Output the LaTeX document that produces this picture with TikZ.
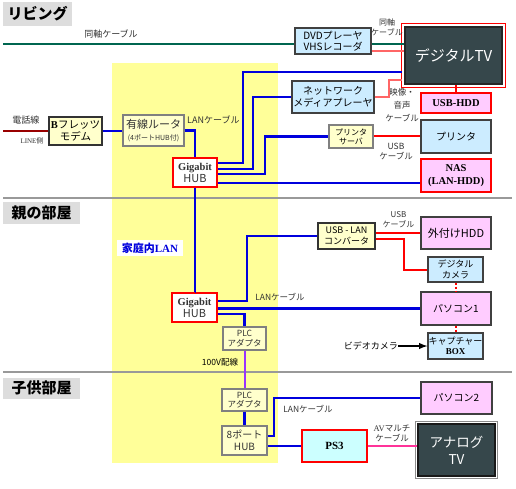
\documentclass[tikz,border=0pt]{standalone}
\usepackage{fontspec}
\setmainfont{Noto Sans CJK JP}
\newfontfamily\serifb{Liberation Serif}
\usepackage{xcolor}
\usepackage{tikz}
\newcommand{\fsz}[2]{\fontsize{#1}{#2}\selectfont}
\definecolor{roomgray}{HTML}{DDDDDD}
\definecolor{sepgray}{HTML}{999999}
\definecolor{lanzone}{HTML}{FFFF99}
\definecolor{boxyellow}{HTML}{FFFFCC}
\definecolor{boxblue}{HTML}{CCECFF}
\definecolor{boxpink}{HTML}{FFCCFF}
\definecolor{boxcyan}{HTML}{CCFFFF}
\definecolor{tvslate}{HTML}{36474B}
\definecolor{lanblue}{HTML}{0000DD}
\definecolor{coaxgreen}{HTML}{006650}
\definecolor{tvpink}{HTML}{FF6666}
\definecolor{telred}{HTML}{990000}
\definecolor{pwrpurple}{HTML}{9933FF}
\definecolor{avpink}{HTML}{FF3399}

\begin{document}
\begin{tikzpicture}[x=1pt,y=-1pt,
  every node/.style={inner sep=0pt, align=center},
  room/.style={fill=roomgray, font=\fsz{15}{17}\bfseries},
  ybox/.style={draw=black!80, line width=1.3pt, fill=boxyellow},
  gbox/.style={draw=black!50, line width=1.3pt, fill=boxyellow},
  bbox/.style={draw=black!75, line width=1.3pt, fill=boxblue},
  pbox/.style={draw=black!75, line width=1.3pt, fill=boxpink},
  rbox/.style={draw=red, line width=1.3pt},
  hub/.style={rbox, fill=white, text=black!80, font=\fsz{11}{12}},
  tvset/.style={fill=tvslate, draw=black!85, line width=2.5pt, text=white},
  lbl/.style={font=\fsz{8.5}{10}, text=black!80},
  lan/.style={draw=lanblue, line width=2.2pt},
  usb/.style={draw=red, line width=2pt},
  sep/.style={draw=sepgray, line width=2pt}]
\useasboundingbox (0,0) rectangle (516,489);

% LAN area and room borders
\fill[lanzone] (112,63) rectangle (278,463);
\draw[sep] (3,198) -- (512,198);
\draw[sep] (3,372) -- (512,372);
\node[room, minimum width=69pt, minimum height=24pt] (living) at (37.5,14) {リビング};
\node[room, minimum width=77pt, minimum height=22pt] (parent) at (41.5,213) {親の部屋};
\node[room, minimum width=77pt, minimum height=21pt] (child) at (41.5,388) {子供部屋};
\node[fill=white, minimum width=66pt, minimum height=16pt, text=lanblue,
  font=\fsz{11}{12}\bfseries] (lanname) at (150,248) {家庭内{\serifb\bfseries LAN}};

% living room
\coordinate (coaxin) at (3,44.5);
\coordinate (phone) at (3,131);
\node[ybox, minimum width=53pt, minimum height=28pt, font=\fsz{10.5}{12}] (modem) at (75.5,131)
  {{\serifb\bfseries B}フレッツ\\モデム};
\node[gbox, minimum width=61pt, minimum height=31pt, font=\fsz{11}{12.5}, text=black!80] (router) at (153.5,130.5)
  {有線ルータ\\{\fsz{7}{8}(4ポートHUB付)}};
\node[hub, minimum width=44pt, minimum height=29pt] (hubA) at (195,172.5)
  {{\serifb\bfseries\fsz{10.5}{12}Gigabit}\\HUB};
\node[bbox, minimum width=76pt, minimum height=26pt, font=\fsz{10}{11}] (dvd) at (333,41)
  {DVDプレーヤ\\VHSレコーダ};
\node[tvset, minimum width=97pt, minimum height=57pt, font=\fsz{15}{16}] (tv) at (453.5,55.5) {デジタルTV};
\draw[red, line width=1.3pt] ([shift={(-2pt,2pt)}]tv.north west) rectangle ([shift={(2pt,-2pt)}]tv.south east);
\node[bbox, minimum width=82pt, minimum height=32pt, font=\fsz{10}{11.5}] (media) at (333,97)
  {ネットワーク\\メディアプレーヤ};
\node[rbox, fill=boxpink, minimum width=70pt, minimum height=20pt, font=\serifb\bfseries\fsz{10.5}{12}] (usbhdd) at (456,103) {USB-HDD};
\node[gbox, minimum width=44pt, minimum height=23pt, font=\fsz{8}{9}] (psrv) at (351,136.5) {プリンタ\\サーバ};
\node[bbox, minimum width=70pt, minimum height=33pt, font=\fsz{10}{11}] (printer) at (456,136.5) {プリンタ};
\node[rbox, fill=boxpink, minimum width=70pt, minimum height=33pt, font=\serifb\bfseries\fsz{10.5}{13}] (nas) at (456,175.5)
  {NAS\\(LAN-HDD)};

\node[lbl, font=\fsz{9}{10}] (coaxlbl) at (111,34) {同軸ケーブル};
\node[lbl, font=\fsz{9}{10}] (tellbl) at (26,120) {電話線};
\node[lbl, font=\fsz{7}{8}] (linelbl) at (32,141) {{\serifb LINE}側};
\node[lbl, font=\fsz{9}{10}, anchor=west] (lanlblA) at (187,120) {LANケーブル};
\node[lbl, font=\fsz{8}{10}] (coaxlblB) at (387,27) {同軸\\ケーブル};
\node[lbl, font=\fsz{8.5}{13}] (avlblA) at (402,105) {映像・\\音声\\ケーブル};
\node[lbl, font=\fsz{8.5}{10}] (usblblA) at (396,151) {USB\\ケーブル};

\draw[telred, line width=2pt] (phone) -- (modem.west);
\draw[coaxgreen, line width=2pt] (coaxin) -- (coaxin -| dvd.west);
\draw[coaxgreen, line width=2pt] ([yshift=-3.5pt]dvd.east) -- ++(32,0);
\draw[tvpink, line width=2pt] ([yshift=-10pt]dvd.east) -- ++(32,0);
\draw[lan] (modem.east) -- (modem.east -| router.west);
\draw[lan] (router.east) -| (hubA.north);
\draw[lan] (hubA.south) -- (hubA.south |- 0,293);
\draw[lan] ([yshift=9.5pt]hubA.east) -- ++(25,0) |- ([shift={(-2pt,-16.5pt)}]tv.west);
\draw[lan] ([yshift=3.5pt]hubA.east) -- ++(35,0) |- (media.west);
\draw[lan] ([yshift=-1.5pt]hubA.east) -- ++(47,0) |- (psrv.west);
\draw[lan] ([yshift=-10.5pt]hubA.east) -- ([yshift=-10.5pt]hubA.east -| nas.west);
\draw[tvpink, line width=2pt] (media.east) -- ++(14,0) |- ([shift={(-2pt,-24.5pt)}]tv.west);
\draw[usb] (tv.south -| usbhdd.north) -- (usbhdd.north);
\draw[usb] (psrv.east) -- (psrv.east -| printer.west);

% parents' room
\node[hub, minimum width=45pt, minimum height=29pt] (hubB) at (194.5,307.5)
  {{\serifb\bfseries\fsz{10.5}{12}Gigabit}\\HUB};
\node[ybox, minimum width=57pt, minimum height=26pt, font=\fsz{9}{10.5}] (conv) at (346.5,236) {USB - LAN\\コンバータ};
\node[pbox, minimum width=70pt, minimum height=32pt, font=\fsz{11}{12}] (exthdd) at (456,233) {外付けHDD};
\node[bbox, minimum width=55pt, minimum height=25pt, font=\fsz{9}{10.5}] (dcam) at (455.5,269.5) {デジタル\\カメラ};
\node[pbox, minimum width=70pt, minimum height=33pt, font=\fsz{10}{11}] (pc1) at (456,308.5) {パソコン1};
\node[bbox, minimum width=55pt, minimum height=26pt, font=\fsz{9}{10.5}] (capbox) at (455.5,346)
  {キャプチャー\\{\serifb\bfseries BOX}};
\node[lbl, font=\fsz{9}{10}, text=black, anchor=east] (vcam) at (398,346) {ビデオカメラ};
\node[gbox, minimum width=43pt, minimum height=23pt, font=\fsz{8.5}{9.5}, text=black!80] (plcA) at (244.5,338.5) {PLC\\アダプタ};
\node[lbl, font=\fsz{8.5}{10}] (lanlblB) at (280,297) {LANケーブル};
\node[lbl, font=\fsz{8}{9.5}] (usblblB) at (398.5,219.5) {USB\\ケーブル};
\node[lbl, font=\fsz{8.5}{10}, text=black] (pwrlbl) at (220,362) {100V配線};

\draw[lan] (hubA.south |- hubB.north) -- (hubB.north);
\draw[lan] ([yshift=6.5pt]hubB.east) -- ++(29,0) |- (conv.west);
\draw[lan] (hubB.east |- pc1.west) -- (pc1.west);
\draw[lan] ([yshift=-6.5pt]hubB.east) -| (plcA.north);
\draw[usb] ([yshift=3pt]conv.east) -- ([yshift=3pt]conv.east -| exthdd.west);
\draw[usb] ([yshift=-3pt]conv.east) -- ++(28,0) |- (dcam.west);
\draw[red, line width=2pt, dotted] (dcam.south) -- (dcam.south |- pc1.north);
\draw[red, line width=2pt, dotted] (pc1.south -| capbox.north) -- (capbox.north);
\draw[black, line width=1.8pt, -latex] (vcam.east) -- (capbox.west);

% children's room
\node[gbox, minimum width=45pt, minimum height=22pt, font=\fsz{8.5}{9.5}, text=black!80] (plcB) at (244.5,400) {PLC\\アダプタ};
\node[gbox, minimum width=45pt, minimum height=29pt, font=\fsz{10}{11.5}, text=black!80] (hub8) at (244.5,440.5) {8ポート\\HUB};
\node[pbox, minimum width=71pt, minimum height=32pt, font=\fsz{10}{11}] (pc2) at (456.5,398) {パソコン2};
\node[rbox, fill=boxcyan, minimum width=65pt, minimum height=32pt, font=\serifb\bfseries\fsz{11}{12}] (ps3) at (334.5,446) {PS3};
\node[tvset, draw=black!90, minimum width=77pt, minimum height=52pt, font=\fsz{13.5}{17}] (atv) at (456.5,450) {アナログ\\TV};
\draw[black!45, line width=1.3pt] ([shift={(-1.5pt,1.5pt)}]atv.north west) rectangle ([shift={(1.5pt,-1.5pt)}]atv.south east);
\node[lbl, font=\fsz{8.5}{10}] (lanlblC) at (308,409) {LANケーブル};
\node[lbl, font=\fsz{8.5}{10}] (avlblB) at (392,433) {{\serifb AV}マルチ\\ケーブル};

\draw[pwrpurple, line width=2pt] (plcA.south) -- (plcB.north);
\draw[lan] (plcB.south) -- (hub8.north);
\draw[lan] ([yshift=4.5pt]hub8.east) -- ++(6,0) |- (pc2.west);
\draw[lan] (hub8.east |- ps3.west) -- (ps3.west);
\draw[avpink, line width=2pt] (ps3.east) -- (ps3.east -| atv.west);
\end{tikzpicture}
\end{document}
